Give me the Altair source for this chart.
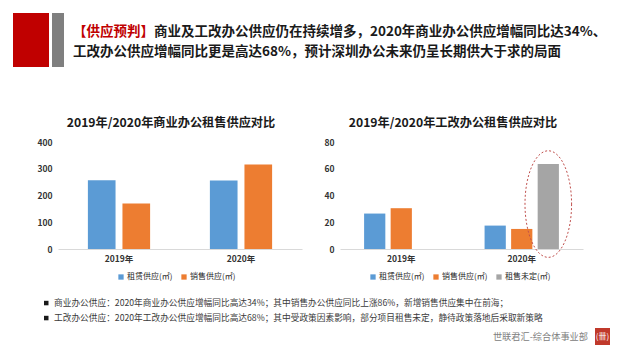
import altair as alt
import pandas as pd

FONT = "Noto Sans CJK SC"

# ---------------- data ----------------
header_tag = "【供应预判】"
header_line1 = "商业及工改办公供应仍在持续增多，2020年商业办公供应增幅同比达34%、"
header_line2 = "工改办公供应增幅同比更是高达68%，预计深圳办公未来仍呈长期供大于求的局面"

years = ["2019年", "2020年"]

left_title = "2019年/2020年商业办公租售供应对比"
left_series = ["租赁供应(㎡)", "销售供应(㎡)"]
left_rent = [257, 256]
left_sale = [170, 316]
left_ticks = [0, 100, 200, 300, 400]

right_title = "2019年/2020年工改办公租售供应对比"
right_series = ["租赁供应(㎡) ", "销售供应(㎡) ", "租售未定(㎡)"]
right_rent = [26.5, 17.5]
right_sale = [30.5, 15.0]
right_undecided = [None, 63.5]
right_ticks = [0, 20, 40, 60, 80]
highlight_value = [33.6]

note_lines = [
    "商业办公供应：2020年商业办公供应增幅同比高达34%；其中销售办公供应同比上涨86%，新增销售供应集中在前海；",
    "工改办公供应：2020年工改办公供应增幅同比高达68%；其中受政策因素影响，部分项目租售未定，静待政策落地后采取新策略",
]
brand = "世联君汇-综合体事业部"
logo_glyph = "(卌)"

BLUE, ORANGE, GRAY = "#5B9BD5", "#ED7D31", "#A5A5A5"
RED = "#C00000"

# local x = page x - 58 (header/footer origin sits on the left plot's origin)
OX = 58
HDR_H = 108
one = pd.DataFrame({"k": [0]})


def txt(s, x, y, size, color, weight="normal", align="left"):
    return alt.Chart(pd.DataFrame({"t": [s]})).mark_text(
        align=align, baseline="middle", font=FONT, fontSize=size,
        fontWeight=weight, color=color
    ).encode(text="t:N", x=alt.value(x - OX), y=alt.value(y))


def box(x1, x2, y1, y2, color):
    return alt.Chart(one).mark_rect(color=color).encode(
        x=alt.value(x1 - OX), x2=alt.value(x2 - OX), y=alt.value(y1), y2=alt.value(y2)
    )


header = alt.layer(
    box(13, 49, 5, 59, RED),
    box(52, 64, 5, 59, "#7F7F7F"),
    txt(header_tag, 73, 23.5, 13.5, RED, "bold"),
    txt(header_line1, 154, 23.5, 13.5, "#1a1a1a", "bold"),
    txt(header_line2, 73, 43.5, 13.5, "#1a1a1a", "bold"),
).properties(width=551, height=HDR_H)


# ---------------- bar charts ----------------
def make_df(series, cols):
    rows = []
    for s, vals in zip(series, cols):
        for yr, v in zip(years, vals):
            if v is not None:
                rows.append({"年份": yr, "系列": s, "值": v})
    return pd.DataFrame(rows)


def bar_chart(df, series, colors, ticks, ymax, title, p_in, p_out,
              off_pad, min_ext, title_dx, legend_x):
    X = alt.X("年份:N", sort=years,
              scale=alt.Scale(domain=years, paddingInner=p_in, paddingOuter=p_out),
              axis=alt.Axis(title=None, labelAngle=0, ticks=False, domainColor="#D9D9D9",
                            labelFont=FONT, labelFontSize=8.5, labelFontWeight="bold",
                            labelColor="#333333", labelPadding=5))
    XO = alt.XOffset("系列:N", sort=series,
                     scale=alt.Scale(domain=series, paddingInner=off_pad, paddingOuter=0))
    Y = alt.Y("值:Q", scale=alt.Scale(domain=[0, ymax], nice=False),
              axis=alt.Axis(title=None, values=ticks, grid=False, domain=False, ticks=False,
                            labelPadding=6, minExtent=min_ext, labelFont=FONT,
                            labelFontSize=8.5, labelFontWeight="bold", labelColor="#333333"))
    bars = alt.Chart(df).mark_bar().encode(
        x=X, xOffset=XO, y=Y,
        color=alt.Color("系列:N", sort=series,
                        scale=alt.Scale(domain=series, range=colors),
                        legend=alt.Legend(title=None, orient="none", legendX=legend_x,
                                          legendY=131, direction="horizontal",
                                          columns=len(series), symbolType="square",
                                          symbolSize=28, symbolStrokeWidth=0,
                                          labelFont=FONT, labelFontSize=8,
                                          labelColor="#262626", columnPadding=7,
                                          padding=0, labelOffset=2)),
    )
    return bars, X, XO, Y, alt.TitleParams(
        text=title, font=FONT, fontSize=12.2, fontWeight="bold", color="#1a1a1a",
        anchor="middle", frame="group", dx=title_dx, offset=9)


ldf = make_df(left_series, [left_rent, left_sale])
lbars, _, _, _, ltitle = bar_chart(ldf, left_series, [BLUE, ORANGE], left_ticks, 400,
                                   left_title, 0.49, 0.245, 0.2, 50, -9, 59)
left = lbars.properties(width=244, height=107, title=ltitle)

rdf = make_df(right_series, [right_rent, right_sale, right_undecided])
rbars, RX, RXO, RY, rtitle = bar_chart(rdf, right_series, [BLUE, ORANGE, GRAY], right_ticks, 80,
                                       right_title, 0.383, 0.2, 0.2, 17, -8.5, 29)

ell_path = ("M 0.437 0 C 0.437 0.5523 0.2414 1 0 1 C -0.2414 1 -0.437 0.5523 -0.437 0 "
            "C -0.437 -0.5523 -0.2414 -1 0 -1 C 0.2414 -1 0.437 -0.5523 0.437 0 Z")
hdf = pd.DataFrame({"年份": ["2020年"], "系列": [right_series[2]], "值": highlight_value})
ellipse = alt.Chart(hdf).mark_point(
    shape=ell_path, size=11364, filled=False, stroke="#C0504D", strokeWidth=1,
    strokeDash=[2, 2], opacity=1
).encode(x=RX, xOffset=RXO, y=RY)

right = alt.layer(rbars, ellipse).properties(width=243, height=107, title=rtitle)

row2 = alt.hconcat(left, right, spacing=21).resolve_scale(
    x="independent", y="independent", xOffset="independent", color="independent"
).resolve_legend(color="independent")

# ---------------- footer ----------------
FT_H = 65
footer = alt.layer(
    box(44, 48.5, 19.8, 24.3, "#1a1a1a"),
    box(44, 48.5, 34.8, 39.3, "#1a1a1a"),
    txt(note_lines[0], 54, 22, 8.7, "#3a3a3a"),
    txt(note_lines[1], 54, 37, 8.7, "#3a3a3a"),
    txt(brand, 588, 56, 9.2, "#808080", align="right"),
    box(595, 610, 47, 64, "#C0392B"),
    txt(logo_glyph, 602.5, 55.5, 8, "#ffffff", align="center"),
).properties(width=551, height=FT_H)

chart = alt.concat(
    header, row2, footer, columns=1, align="none", spacing=0,
).properties(padding=0).configure(background="white").configure_view(
    strokeWidth=0, stroke="transparent")

chart.save("out.html", embed_options={"renderer": "svg", "actions": False})
